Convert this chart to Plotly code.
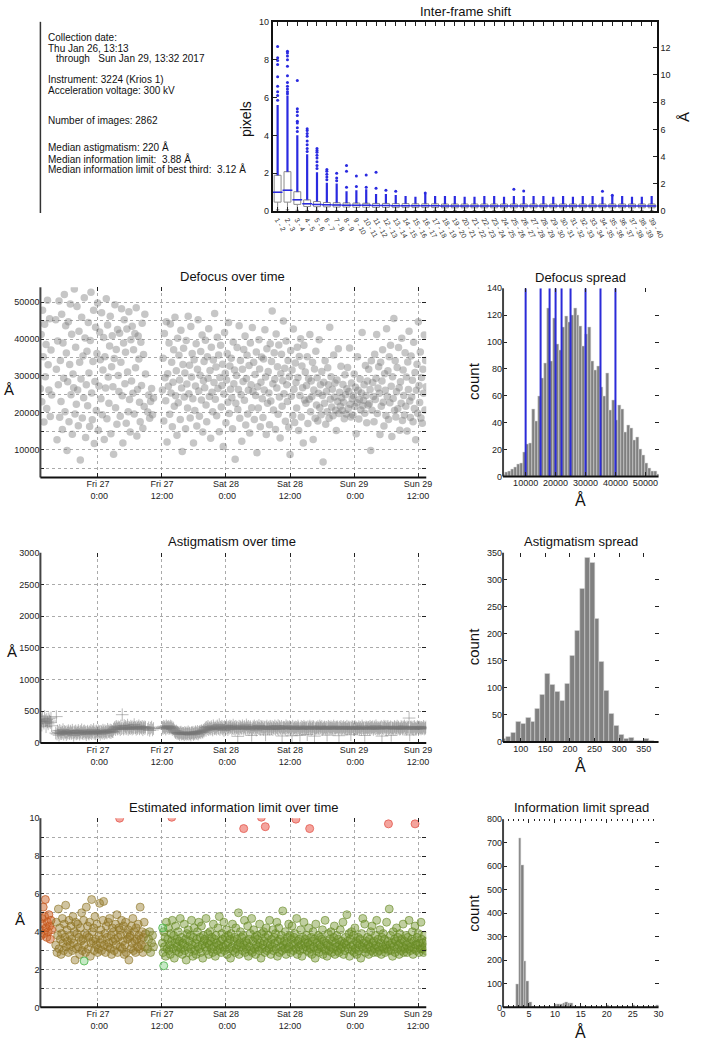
import pandas as pd
import plotly.graph_objects as go

W, H = 702, 1050
FONT = "Liberation Sans, Arial, Helvetica, sans-serif"

# ---------------- Inter-frame shift (box plot, pixels) ----------------
frame_numbers = list(range(1, 40))
shift_q1 = [0.47, 0.47, 0.35, 0.24, 0.23, 0.22, 0.21, 0.21, 0.20, 0.20, 0.19, 0.19, 0.18, 0.18, 0.18, 0.18, 0.18,
            0.17, 0.17, 0.17, 0.17, 0.17, 0.17, 0.17, 0.17, 0.17, 0.17, 0.17, 0.17, 0.17, 0.17, 0.17, 0.17, 0.17,
            0.17, 0.17, 0.17, 0.17, 0.17]
shift_median = [0.99, 1.10, 0.59, 0.38, 0.35, 0.33, 0.32, 0.31, 0.30, 0.30, 0.29, 0.29, 0.28, 0.28, 0.28, 0.28, 0.28,
                0.27, 0.27, 0.27, 0.27, 0.27, 0.27, 0.27, 0.27, 0.27, 0.27, 0.27, 0.27, 0.27, 0.27, 0.27, 0.27, 0.27,
                0.27, 0.27, 0.27, 0.27, 0.27]
shift_q3 = [1.89, 2.08, 1.02, 0.59, 0.50, 0.45, 0.44, 0.43, 0.42, 0.41, 0.40, 0.40, 0.39, 0.39, 0.38, 0.38, 0.38,
            0.37, 0.37, 0.37, 0.37, 0.37, 0.37, 0.37, 0.37, 0.37, 0.37, 0.37, 0.37, 0.37, 0.37, 0.37, 0.37, 0.37,
            0.37, 0.37, 0.37, 0.37, 0.37]
shift_low = [0.06, 0.06, 0.04, 0.03, 0.03, 0.03, 0.03, 0.03, 0.03, 0.03, 0.03, 0.03, 0.03, 0.03, 0.03, 0.03, 0.03,
             0.03, 0.03, 0.03, 0.03, 0.03, 0.03, 0.03, 0.03, 0.03, 0.03, 0.03, 0.03, 0.03, 0.03, 0.03, 0.03, 0.03,
             0.03, 0.03, 0.03, 0.03, 0.03]
shift_dense_top = [5.6, 6.1, 4.0, 3.0, 2.05, 1.5, 1.45, 1.05, 1.1, 1.15, 0.9, 0.9, 0.85, 0.8, 0.75, 0.9, 0.8, 0.8,
                   0.8, 0.75, 0.75, 0.8, 0.8, 0.75, 0.8, 0.8, 0.8, 0.8, 0.75, 0.8, 0.75, 0.8, 0.8, 0.75, 0.8, 0.8,
                   0.75, 0.75, 0.8]
outlier_frame = [1, 1, 1, 1, 1, 1, 1, 1, 1,
                 2, 2, 2, 2, 2, 2, 2, 2, 2, 2, 2,
                 3, 3, 3, 3, 3, 3, 3, 3,
                 4, 4, 4, 4, 4, 4, 4, 4,
                 5, 5, 5, 5, 5, 5, 5, 5,
                 6, 6, 6, 6, 6,
                 7, 7, 7, 8, 8, 8, 9, 9, 10, 10, 11, 11, 12, 13, 16, 25, 26, 34, 35]
outlier_value = [8.7, 8.1, 7.95, 7.75, 7.1, 6.6, 6.3, 6.1, 5.85,
                 8.45, 8.35, 8.2, 8.0, 7.65, 7.15, 6.8, 6.6, 6.45, 6.3, 6.2,
                 6.9, 5.4, 5.25, 5.05, 4.75, 4.65, 4.4, 4.2,
                 4.35, 4.25, 4.1, 3.95, 3.7, 3.5, 3.3, 3.15,
                 3.3, 3.2, 3.1, 2.95, 2.8, 2.6, 2.4, 2.25,
                 2.2, 2.1, 1.95, 1.8, 1.65,
                 2.0, 1.75, 1.6, 2.4, 2.1, 1.25, 1.85, 1.3, 1.9, 1.25, 2.05, 1.2, 1.1, 1.05, 0.95, 1.15, 1.06,
                 1.05, 0.84]
PIXEL_SIZE_A = 1.39

# ---------------- Acquisition segments ----------------
segments = [("2017-01-26 13:13", "2017-01-26 15:20"),
            ("2017-01-26 16:05", "2017-01-27 08:55"),
            ("2017-01-27 09:20", "2017-01-27 10:25"),
            ("2017-01-27 12:05", "2017-01-29 13:32")]

# Defocus, in units of 100 Å
defocus_hA = [
    [265, 412, 230, 478, 352, 175, 440, 298, 385, 212, 505, 330, 262, 455, 190, 370, 248],
    [452, 318, 127, 395, 276, 503, 188, 342, 231, 467, 155, 389, 294, 521, 203, 436,
     362, 98, 284, 447, 176, 331, 495, 249, 413, 142, 305, 268, 536, 197, 378, 223,
     488, 262, 165, 421, 337, 72, 292, 459, 186, 354, 241, 512, 403, 133, 276, 367,
     219, 445, 308, 163, 396, 527, 254, 181, 339, 478, 117, 285, 432, 206, 361, 498,
     153, 273, 419, 344, 238, 471, 195, 316, 404, 128, 352, 267, 509, 184, 438, 297,
     226, 381, 462, 143, 325, 409, 271, 88, 347, 493, 214, 372, 169, 426, 301, 258,
     416, 191, 337, 482, 246, 118, 389, 452, 279, 364, 172, 427, 311, 203, 474, 236,
     148, 398, 286, 435, 253, 371, 197, 415, 322, 485, 137, 263, 408, 346, 229, 176,
     391, 274, 443, 158, 358, 217, 467, 305],
    [202, 248, 185, 231, 266, 195, 240],
    [262, 348, 178, 415, 295, 233, 447, 121, 306, 272, 389, 196, 441, 254, 337, 162,
     283, 371, 218, 459, 246, 314, 139, 402, 227, 356, 289, 182, 424, 267, 95, 331,
     375, 243, 308, 157, 396, 278, 213, 462, 252, 329, 186, 434, 297, 361, 238, 118,
     344, 206, 273, 387, 164, 318, 452, 259, 191, 302, 366, 235, 411, 148, 287, 339,
     268, 397, 221, 176, 352, 294, 428, 244, 315, 131, 378, 256, 203, 343, 282, 469,
     237, 324, 192, 405, 266, 357, 149, 296, 383, 216, 274, 332, 109, 251, 418, 307,
     173, 289, 361, 229, 445, 198, 327, 264, 348, 241, 157, 392, 279, 316, 74, 226,
     301, 377, 209, 263, 436, 185, 342, 249, 123, 318, 285, 372, 234, 408, 167, 293,
     356, 197, 261, 328, 145, 389, 276, 214, 431, 258, 337, 182, 304, 247, 365, 92,
     271, 213, 398, 319, 162, 283, 351, 238, 187, 346, 262, 425, 297, 141, 374, 226,
     312, 254, 168, 387, 232, 339, 476, 279, 208, 363, 291, 155, 414, 267, 325, 196,
     384, 243, 132, 306, 359, 218, 287, 449, 252, 321, 177, 395, 276, 231, 342, 161,
     298, 87, 369, 245, 316, 193, 427, 264, 174, 335, 282, 213, 378, 296, 152, 353,
     247, 401, 189, 327, 268, 118, 383, 235, 311, 226, 274, 352, 171, 293, 237, 412,
     203, 286, 244, 337, 128, 262, 319, 185, 367, 221, 295, 178, 253, 398, 214, 276,
     195, 312, 247, 67, 283, 226, 341, 169, 258, 203, 322, 276, 185, 432, 237, 298,
     216, 264, 192, 357, 243, 281, 207, 152, 289, 231, 374, 198, 256, 218, 326, 241,
     206, 277, 229, 184, 303, 249, 197, 265, 323, 212, 258, 376, 223, 189, 281, 238,
     194, 246, 305, 217, 269, 143, 227, 352, 261, 183, 236, 292, 208, 254, 418, 219,
     234, 276, 199, 328, 247, 173, 286, 221, 318, 225, 263, 98, 341, 207, 282, 244,
     176, 359, 236, 294, 412, 198, 267, 325, 253, 141, 337, 218, 286, 371, 229, 164,
     306, 261, 193, 428, 245, 314, 182, 352, 227, 383, 272, 136, 298, 239, 456, 206,
     341, 189, 257, 323, 211, 377, 268, 153, 284, 226, 402, 179, 316, 247, 194, 363,
     218, 297, 151, 338, 263, 421, 232, 187, 354, 243, 288, 176, 391, 212, 309, 127,
     261, 332, 199, 447, 274, 228, 365, 186, 296, 172, 318, 253, 411, 208, 342, 271],
]

# Astigmatism, Å
astig_A = [
    [330, 360, 280, 390, 340, 310, 420, 350, 255, 370, 330, 300, 380, 345, 320, 395, 270],
    [155, 415, 140, 188, 163, 121, 197, 150, 178, 146, 167, 209, 138, 182, 159, 171,
     132, 176, 154, 193, 161, 145, 186, 168, 149, 201, 163, 118, 175, 157, 189, 142,
     170, 153, 196, 165, 137, 181, 158, 207, 160, 144, 178, 190, 152, 172, 128, 166,
     185, 157, 139, 174, 162, 198, 147, 180, 165, 212, 151, 176, 143, 188, 169, 156,
     191, 163, 178, 134, 184, 171, 155, 202, 174, 149, 193, 168, 181, 158, 215, 176,
     188, 170, 204, 162, 195, 183, 176, 213, 228, 246, 211, 262, 237, 219, 254, 231,
     243, 208, 268, 226, 445, 239, 217, 275, 234, 259, 222, 244, 281, 213, 248, 236,
     226, 264, 241, 218, 253, 232, 289, 245, 238, 215, 257, 229, 246, 271, 221, 250,
     244, 232, 261, 207, 239, 255, 226, 248],
    [215, 240, 198, 232, 250, 205, 227],
    [245, 228, 262, 239, 251, 217, 270, 236, 248, 259, 224, 243, 266, 231, 254, 212,
     238, 221, 196, 175, 162, 188, 151, 170, 146, 163, 132, 158, 171, 139, 155, 144,
     152, 128, 167, 149, 137, 160, 142, 175, 138, 156, 147, 123, 162, 151, 169, 134,
     158, 143, 176, 161, 148, 182, 139, 165, 172, 184, 159, 193, 178, 168, 201, 187,
     214, 236, 198, 247, 223, 261, 209, 232, 243, 218, 256, 229, 204, 271, 238, 222,
     231, 252, 217, 268, 240, 226, 289, 211, 248, 234, 263, 219, 245, 197, 258, 236,
     224, 273, 241, 208, 252, 232, 266, 243, 259, 216, 237, 281, 226, 249, 213, 262,
     235, 247, 104, 228, 264, 219, 253, 240, 226, 271, 243, 215, 258, 236, 221, 284,
     247, 229, 262, 208, 239, 255, 231, 118, 218, 253, 237, 269, 224, 246, 203, 259,
     241, 227, 276, 233, 215, 262, 248, 229, 256, 212, 238, 251, 126, 243, 267, 221,
     233, 249, 218, 263, 237, 224, 256, 209, 244, 231, 269, 215, 252, 238, 227, 274,
     212, 257, 240, 226, 261, 109, 235, 248, 229, 246, 218, 272, 236, 253, 221, 242,
     258, 224, 249, 233, 112, 264, 217, 239, 236, 251, 213, 245, 227, 268, 241, 222,
     119, 232, 258, 211, 246, 229, 263, 238, 224, 247, 236, 131, 255, 218, 241, 266,
     239, 213, 252, 228, 261, 244, 107, 235, 216, 243, 229, 257, 234, 221, 268, 245,
     231, 259, 214, 238, 226, 252, 240, 217, 247, 122, 236, 263, 219, 248, 231, 255,
     228, 241, 219, 267, 243, 212, 238, 251, 236, 254, 227, 114, 249, 232, 261, 218,
     243, 221, 258, 236, 229, 246, 215, 264, 218, 237, 251, 226, 242, 128, 233, 257,
     249, 214, 238, 262, 225, 243, 231, 219, 232, 256, 221, 245, 237, 213, 268, 240,
     226, 244, 117, 231, 253, 239, 222, 247, 241, 218, 263, 229, 246, 235, 256, 212,
     235, 252, 224, 271, 238, 219, 247, 229, 219, 243, 236, 258, 108, 241, 227, 264,
     248, 229, 257, 216, 239, 262, 224, 237, 231, 254, 118, 243, 229, 236, 218, 259,
     244, 221, 238, 265, 227, 249, 233, 215, 226, 258, 241, 219, 252, 235, 267, 238,
     239, 217, 254, 231, 246, 392, 125, 242, 253, 236, 222, 248, 213, 261, 239, 227,
     217, 244, 259, 233, 226, 251, 240, 219, 246, 228, 237, 262, 219, 243, 231, 254],
]

# Estimated information limit, in units of 0.1 Å
info_dA = [
    [41, 38, 47, 44, 53, 39, 48, 57, 42, 37, 45, 40, 49, 43, 36, 46, 41],
    [33, 45, 29, 38, 52, 31, 42, 36, 28, 39, 47, 34, 30, 44, 37, 54,
     32, 41, 35, 29, 46, 38, 33, 43, 36, 30, 48, 34, 40, 25, 45, 31,
     39, 44, 32, 37, 28, 42, 35, 50, 30, 36, 46, 33, 39, 29, 53, 38,
     43, 31, 37, 45, 27, 34, 57, 40, 35, 42, 30, 48, 36, 33, 44, 29,
     31, 38, 55, 34, 41, 30, 36, 46, 56, 33, 39, 29, 43, 37, 32, 45,
     34, 47, 31, 38, 28, 42, 35, 40, 30, 36, 44, 33, 49, 29, 37, 42,
     41, 32, 38, 46, 31, 35, 43, 28, 33, 45, 29, 39, 36, 41, 25, 37,
     38, 31, 43, 34, 47, 30, 40, 35, 29, 42, 36, 32, 44, 38, 31, 53,
     36, 33, 40, 29, 37, 45, 32, 39],
    [31, 36, 40, 29, 34, 38, 32],
    [34, 29, 40, 32, 37, 27, 45, 31, 36, 42, 30, 33, 28, 39, 35, 46,
     31, 38, 26, 34, 43, 30, 36, 32, 40, 29, 35, 47, 31, 37, 28, 34,
     33, 44, 30, 36, 25, 39, 32, 41, 29, 35, 38, 31, 46, 33, 27, 37,
     42, 30, 34, 28, 36, 40, 32, 45, 31, 37, 29, 43, 33, 26, 38, 35,
     36, 32, 47, 30, 34, 39, 28, 33, 40, 35, 31, 37, 29, 44, 32, 36,
     27, 38, 34, 30, 42, 33, 48, 31, 35, 29, 39, 36, 32, 45, 30, 37,
     33, 41, 28, 34, 38, 31, 36, 26, 39, 32, 44, 30, 35, 37, 29, 42,
     31, 36, 33, 50, 28, 34, 40, 32, 37, 30, 38, 33, 46, 29, 35, 31,
     34, 43, 27, 36, 32, 39, 30, 47, 29, 35, 41, 31, 37, 28, 33, 38,
     36, 32, 30, 44, 34, 26, 39, 31, 33, 40, 35, 29, 37, 42, 30, 34,
     38, 31, 46, 33, 28, 36, 32, 41, 30, 37, 34, 39, 31, 45, 27, 35,
     42, 29, 36, 32, 38, 30, 51, 33, 35, 31, 40, 28, 34, 37, 31, 44,
     32, 38, 29, 36, 43, 33, 30, 37, 39, 34, 31, 47, 28, 35, 32, 36,
     30, 41, 33, 27, 37, 31, 45, 34, 36, 32, 38, 30, 34, 42, 29, 33,
     31, 37, 28, 35, 40, 32, 36, 26, 44, 30, 34, 31, 38, 29, 33, 37,
     32, 36, 41, 28, 35, 31, 46, 30, 34, 27, 33, 39, 30, 36, 32, 40,
     29, 35, 31, 37, 43, 28, 34, 32, 38, 30, 36, 29, 33, 41, 31, 35,
     32, 45, 28, 34, 30, 37, 33, 49, 35, 31, 39, 27, 36, 32, 40, 30,
     33, 38, 29, 42, 31, 35, 28, 34, 37, 30, 33, 36, 26, 39, 32, 47,
     31, 34, 44, 29, 35, 31, 37, 33, 28, 36, 32, 40, 30, 43, 34, 29,
     35, 31, 38, 33, 46, 29, 36, 32, 30, 41, 34, 28, 37, 32, 39, 31,
     36, 29, 33, 45, 31, 35, 30, 52, 33, 38, 30, 34, 27, 40, 32, 36,
     29, 35, 42, 31, 37, 33, 28, 39, 34, 30, 36, 32, 44, 29, 35, 31,
     38, 33, 29, 37, 31, 46, 34, 30, 32, 36, 40, 28, 35, 31, 43, 33,
     30, 37, 33, 39, 29, 34, 31, 45, 36, 31, 34, 29, 38, 32, 30, 35],
]
info_high_times = ["2017-01-27 04:04", "2017-01-27 13:50", "2017-01-28 03:19", "2017-01-28 06:38",
                   "2017-01-28 07:22", "2017-01-28 13:06", "2017-01-28 15:41", "2017-01-29 06:27",
                   "2017-01-29 11:26"]
info_high_values = [10.0, 10.05, 9.45, 10.05, 9.55, 9.95, 9.45, 9.7, 9.7]
info_green_times = ["2017-01-27 12:20", "2017-01-26 21:25", "2017-01-27 12:08"]
info_green_values = [2.2, 2.45, 4.2]

# ---------------- Histograms ----------------
defocus_bin_start, defocus_bin_width = 2000, 1000
defocus_counts = [2, 3, 4, 5, 7, 9, 10, 18, 24, 25, 50, 41, 60, 73, 84, 125, 86, 118, 98, 94, 111, 119, 115, 120,
                  125, 120, 112, 97, 106, 111, 86, 79, 82, 66, 60, 77, 49, 57, 42, 53, 50, 33, 38, 36, 27, 29, 20,
                  16, 10, 6, 4, 4, 2]
defocus_targets = [10000, 15000, 18000, 20000, 22000, 25000, 30000, 35000, 40000]

astig_bin_start, astig_bin_width = 60, 10
astig_counts = [5, 10, 17, 38, 33, 45, 38, 61, 87, 127, 106, 93, 77, 108, 160, 205, 283, 341, 331, 228, 148, 95,
                52, 30, 14, 6, 7, 3, 2, 5, 2, 1]

info_bin_start, info_bin_width = 0.0, 0.5
info_counts = [0, 0, 0, 0, 2, 98, 720, 606, 196, 113, 20, 4, 2, 1, 1, 1, 1, 1, 1, 2, 12, 14, 15, 19, 20, 17, 16, 4,
               2, 1, 7, 2, 0, 0, 0, 1, 0, 0, 0, 0, 9, 2, 0, 0, 0, 0, 0, 0, 0, 0, 8, 2, 0, 0, 0, 0, 0, 0, 0, 9]

time_ticks = ["2017-01-27 00:00", "2017-01-27 12:00", "2017-01-28 00:00", "2017-01-28 12:00",
              "2017-01-29 00:00", "2017-01-29 12:00"]
time_tick_labels = ["Fri 27<br> 0:00", "Fri 27<br>12:00", "Sat 28<br> 0:00", "Sat 28<br>12:00",
                    "Sun 29<br> 0:00", "Sun 29<br>12:00"]
time_range = ["2017-01-26 13:13", "2017-01-29 13:32"]

info_lines = [
    ("Collection date:", 33, 44),
    ("Thu Jan 26, 13:13", 44, 44),
    ("through\u00a0\u00a0 Sun Jan 29, 13:32 2017", 54, 52),
    ("Instrument: 3224 (Krios 1)", 75, 44),
    ("Acceleration voltage: 300 kV", 86, 44),
    ("Number of images: 2862", 117, 44),
    ("Median astigmatism: 220 Å", 143, 44),
    ("Median information limit:\u00a0 3.88 Å", 155, 44),
    ("Median information limit of best third:\u00a0 3.12 Å", 166, 44),
]


# ---------------- helpers ----------------
def fx(x):
    return x / W


def fy(y):
    return 1 - y / H


def seg_times(seg, n):
    return list(pd.date_range(pd.Timestamp(seg[0]), pd.Timestamp(seg[1]), periods=n))


fig = go.Figure()

# ---------- box plot ----------
frame_labels = [f"{i} - {i + 1}" for i in frame_numbers]
fig.add_trace(go.Box(x=frame_labels, q1=shift_q1, median=shift_median, q3=shift_q3,
                     lowerfence=shift_low, upperfence=shift_q3, boxpoints=False, width=0.7,
                     line=dict(color="#8c8c8c", width=1), fillcolor="rgba(0,0,0,0)",
                     xaxis="x", yaxis="y", hoverinfo="skip"))
wx, wy = [], []
for lab, a, b in zip(frame_labels, shift_q3, shift_dense_top):
    wx += [lab, lab, None]
    wy += [a, b, None]
fig.add_trace(go.Scatter(x=wx, y=wy, mode="lines", line=dict(color="#2a2ae0", width=2.2),
                         xaxis="x", yaxis="y", hoverinfo="skip"))
fig.add_trace(go.Scatter(x=[frame_labels[i - 1] for i in outlier_frame], y=outlier_value, mode="markers",
                         marker=dict(color="#2a2ae0", size=3), xaxis="x", yaxis="y", hoverinfo="skip"))
fig.add_trace(go.Scatter(x=frame_labels, y=shift_median, mode="markers",
                         marker=dict(symbol="line-ew", size=7, line=dict(color="#2a2ae0", width=1.5)),
                         xaxis="x", yaxis="y", hoverinfo="skip"))
fig.add_trace(go.Scatter(x=[frame_labels[0]], y=[shift_median[0] * PIXEL_SIZE_A], mode="markers",
                         marker=dict(opacity=0), xaxis="x", yaxis="y2", hoverinfo="skip"))

# ---------- defocus over time ----------
for k, seg in enumerate(segments):
    vals = [v * 100 for v in defocus_hA[k]]
    fig.add_trace(go.Scatter(x=seg_times(seg, len(vals)), y=vals, mode="markers",
                             marker=dict(color="rgba(120,120,120,0.42)", size=7.5),
                             xaxis="x3", yaxis="y3", hoverinfo="skip"))

# ---------- astigmatism over time ----------
for k, seg in enumerate(segments):
    vals = astig_A[k]
    fig.add_trace(go.Scatter(x=seg_times(seg, len(vals)), y=vals, mode="markers",
                             marker=dict(symbol="cross-thin", size=9,
                                         line=dict(color="rgba(120,120,120,0.5)", width=1)),
                             xaxis="x5", yaxis="y5", hoverinfo="skip"))

# ---------- information limit over time ----------
seg_fill = ["rgba(205,100,40,0.5)", "rgba(150,125,45,0.45)", "rgba(130,135,45,0.45)", "rgba(115,148,45,0.45)"]
seg_line = ["rgba(195,85,30,0.75)", "rgba(140,115,35,0.6)", "rgba(120,130,40,0.6)", "rgba(100,135,35,0.6)"]
for k, seg in enumerate(segments):
    vals = [v / 10 for v in info_dA[k]]
    fig.add_trace(go.Scatter(x=seg_times(seg, len(vals)), y=vals, mode="markers",
                             marker=dict(color=seg_fill[k], size=8, line=dict(color=seg_line[k], width=1)),
                             xaxis="x7", yaxis="y7", hoverinfo="skip"))
fig.add_trace(go.Scatter(x=info_high_times, y=info_high_values, mode="markers",
                         marker=dict(color="rgba(240,125,115,0.7)", size=8,
                                     line=dict(color="rgba(230,100,90,0.9)", width=1)),
                         xaxis="x7", yaxis="y7", hoverinfo="skip"))
fig.add_trace(go.Scatter(x=info_green_times, y=info_green_values, mode="markers",
                         marker=dict(color="rgba(110,200,110,0.4)", size=8,
                                     line=dict(color="rgba(70,180,70,0.8)", width=1)),
                         xaxis="x7", yaxis="y7", hoverinfo="skip"))


# ---------- histograms ----------
def add_hist(start, width, counts, xa, ya):
    centers = [start + (i + 0.5) * width for i in range(len(counts))]
    fig.add_trace(go.Bar(x=centers, y=counts, width=width, marker=dict(color="#808080",
                                                                        line=dict(color="#d8d8d8", width=0.5)),
                         xaxis=xa, yaxis=ya, hoverinfo="skip"))


add_hist(defocus_bin_start, defocus_bin_width, defocus_counts, "x4", "y4")
add_hist(astig_bin_start, astig_bin_width, astig_counts, "x6", "y6")
add_hist(info_bin_start, info_bin_width, info_counts, "x8", "y8")

bx, by = [], []
for t in defocus_targets:
    bx += [t, t, None]
    by += [0, 140, None]
fig.add_trace(go.Scatter(x=bx, y=by, mode="lines", line=dict(color="#2b2bd8", width=2),
                         xaxis="x4", yaxis="y4", hoverinfo="skip"))

# ---------- layout ----------
tickfont = dict(family=FONT, size=9, color="#222")
base = dict(ticks="inside", ticklen=4, tickwidth=1, tickcolor="#222", tickfont=tickfont, zeroline=False,
            showgrid=False, tickformat="d")
grid = dict(showgrid=True, gridcolor="#aaaaaa", griddash="dot", gridwidth=1)

time_dom = [fx(38), fx(430)]
spread_dom = [fx(508), fx(666)]


def time_x(anchor):
    d = dict(base, **grid, domain=time_dom, anchor=anchor, type="date", range=time_range,
             tickmode="array", tickvals=time_ticks, ticktext=time_tick_labels, mirror="ticks",
             showline=False)
    d.pop("tickformat")
    return d


box_x = dict(base, domain=[fx(274), fx(664)], anchor="y", type="category", range=[-0.5, 38.5],
             tickmode="array", tickvals=frame_labels, ticktext=frame_labels,
             tickangle=60, tickfont=dict(family=FONT, size=7, color="#333"), showline=True, linewidth=2,
             linecolor="#111", mirror="ticks")
box_x.pop("tickformat")

layout = dict(
    width=W, height=H, margin=dict(l=0, r=0, t=0, b=0), paper_bgcolor="white", plot_bgcolor="white",
    showlegend=False, bargap=0, font=dict(family=FONT, color="#111"),
    # box plot
    xaxis=box_x,
    yaxis=dict(base, domain=[fy(208), fy(17)], anchor="x", range=[0, 10], dtick=2, tick0=0, showline=True,
               linewidth=2, linecolor="#111"),
    yaxis2=dict(base, overlaying="y", side="right", anchor="x", range=[0, 10 * PIXEL_SIZE_A], dtick=2, tick0=0,
                showline=True, linewidth=2, linecolor="#111"),
    # defocus over time
    xaxis3=time_x("y3"),
    yaxis3=dict(base, **grid, domain=[fy(477), fy(285)], anchor="x3", range=[2480, 54030], dtick=10000,
                tick0=0, mirror="ticks",
                minor=dict(dtick=5000, tick0=0, showgrid=True, gridcolor="#aaaaaa", griddash="dot",
                           ticks="inside", ticklen=4, tickcolor="#222")),
    # defocus spread
    xaxis4=dict(base, domain=spread_dom, anchor="y4", range=[2450, 54400], dtick=10000, tick0=0,
                mirror="ticks"),
    yaxis4=dict(base, domain=[fy(476), fy(286)], anchor="x4", range=[0, 140], dtick=20, tick0=0,
                mirror="ticks"),
    # astigmatism over time
    xaxis5=time_x("y5"),
    yaxis5=dict(base, **grid, domain=[fy(745), fy(553)], anchor="x5", range=[0, 3000], dtick=500, tick0=0,
                mirror="ticks"),
    # astigmatism spread
    xaxis6=dict(base, domain=spread_dom, anchor="y6", range=[64, 380], dtick=50, tick0=0, mirror="ticks"),
    yaxis6=dict(base, domain=[fy(744), fy(553)], anchor="x6", range=[0, 350], dtick=50, tick0=0,
                mirror="ticks"),
    # info over time
    xaxis7=time_x("y7"),
    yaxis7=dict(base, **grid, domain=[fy(1012), fy(821)], anchor="x7", range=[0, 10], dtick=2, tick0=0,
                mirror="ticks",
                minor=dict(dtick=1, tick0=0, showgrid=True, gridcolor="#aaaaaa", griddash="dot",
                           ticks="inside", ticklen=4, tickcolor="#222")),
    # info spread
    xaxis8=dict(base, domain=spread_dom, anchor="y8", range=[0, 30], dtick=5, tick0=0, mirror="ticks",
                minor=dict(dtick=1, tick0=0, ticks="inside", ticklen=2, tickcolor="#222")),
    yaxis8=dict(base, domain=[fy(1012), fy(822)], anchor="x8", range=[0, 800], dtick=100, tick0=0,
                mirror="ticks"),
)
fig.update_layout(**layout)

# axis lines (left and bottom) for the gnuplot-style panels
for xa, ya in [("x3", "y3"), ("x4", "y4"), ("x5", "y5"), ("x6", "y6"), ("x7", "y7"), ("x8", "y8")]:
    fig.add_shape(type="line", xref=f"{xa} domain", yref=f"{ya} domain", x0=0, x1=0, y0=0, y1=1,
                  line=dict(color="#444", width=2))
    fig.add_shape(type="line", xref=f"{xa} domain", yref=f"{ya} domain", x0=0, x1=1, y0=0, y1=0,
                  line=dict(color="#111", width=2))

# text panel separator
fig.add_shape(type="line", xref="paper", yref="paper", x0=fx(38), x1=fx(38), y0=fy(17), y1=fy(210),
              line=dict(color="#333", width=1.5))


def note(text, x, y, size, angle=0, xanchor="center"):
    fig.add_annotation(text=text, x=fx(x), y=fy(y), xref="paper", yref="paper", showarrow=False,
                       xanchor=xanchor, yanchor="middle", textangle=angle,
                       font=dict(family=FONT, size=size, color="#111"))


for txt, yy, xx in info_lines:
    note(txt, xx, yy, 10, xanchor="left")

note("Inter-frame shift", 470, 7, 13)
note("pixels", 247, 115, 14, angle=-90)
note("Å", 692, 113, 15, angle=-90)
note("Defocus over time", 233, 274, 13)
note("Defocus spread", 587, 275, 13)
note("Astigmatism over time", 233, 542, 13)
note("Astigmatism spread", 587, 542, 13)
note("Estimated information limit over time", 235, 810, 13)
note("Information limit spread", 588, 810, 13)
note("Å", 6, 388, 15)
note("Å", 9, 653, 15)
note("Å", 17, 923, 15)
for yc, yl in [(380, 500), (648, 768), (917, 1037)]:
    note("count", 478, yc, 15, angle=-90)
    note("Å", 587, yl, 16)

fig.write_html("out.html", config={"displayModeBar": False},
               post_script="document.body.style.margin='0';document.body.style.overflow='hidden';")
